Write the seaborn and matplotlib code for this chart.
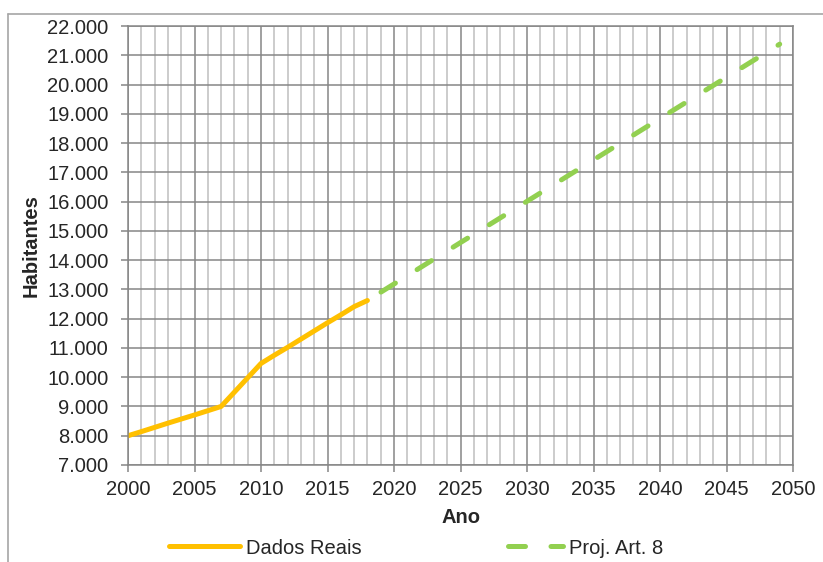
import pandas as pd
import seaborn as sns
import matplotlib.pyplot as plt
from matplotlib.lines import Line2D
from matplotlib.ticker import MultipleLocator, FuncFormatter

# dados reais (habitantes por ano)
anos_reais = [2000, 2001, 2002, 2003, 2004, 2005, 2006, 2007, 2008, 2009,
              2010, 2011, 2012, 2013, 2014, 2015, 2016, 2017, 2018]
hab_reais = [8000, 8140, 8285, 8430, 8570, 8710, 8855, 9000, 9490, 9980,
             10470, 10750, 11020, 11300, 11580, 11860, 12130, 12410, 12620]

# projecao
anos_proj = [2018, 2020, 2025, 2030, 2035, 2040, 2045, 2049]
hab_proj = [12620, 13185, 14600, 16010, 17425, 18840, 20250, 21380]

df_reais = pd.DataFrame({"Ano": anos_reais, "Habitantes": hab_reais})
df_proj = pd.DataFrame({"Ano": anos_proj, "Habitantes": hab_proj})

sns.set_style("white")
plt.rcParams['font.family'] = ['Liberation Sans', 'DejaVu Sans']
fs = 14.5

fig = plt.figure(figsize=(8.23, 5.62), dpi=100)
ax = fig.add_axes([128 / 823, 1 - 465 / 562, (793 - 128) / 823, (465 - 26) / 562])

sns.lineplot(data=df_reais, x="Ano", y="Habitantes", ax=ax, color="#FFC000",
             linewidth=3.6, label="Dados Reais", solid_capstyle="round")
sns.lineplot(data=df_proj, x="Ano", y="Habitantes", ax=ax, color="#92D050",
             linewidth=3.6, label="Proj. Art. 8")
proj_line = ax.lines[-1]
proj_line.set_linestyle((5.3, (3.4, 5.1)))
proj_line.set_dash_capstyle("round")

ax.set_xlim(2000, 2050)
ax.set_ylim(7000, 22000)
ax.xaxis.set_major_locator(MultipleLocator(5))
ax.xaxis.set_minor_locator(MultipleLocator(1))
ax.yaxis.set_major_locator(MultipleLocator(1000))
ax.yaxis.set_major_formatter(FuncFormatter(lambda v, p: f"{v:,.0f}".replace(",", ".")))

ax.grid(which="major", color="#868686", linewidth=1.1)
ax.grid(which="minor", axis="x", color="#BFBFBF", linewidth=1.1)
ax.set_axisbelow(True)

for s in ax.spines.values():
    s.set_color("#868686")
    s.set_linewidth(1.1)

ax.tick_params(axis="both", which="major", labelsize=fs, length=5, width=1.1,
               color="#868686", direction="out", left=True, bottom=True)
ax.tick_params(axis="y", which="major", pad=9)
ax.tick_params(axis="x", which="major", pad=6)
ax.tick_params(axis="x", which="minor", length=0)

ax.set_xlabel("Ano", fontsize=fs, fontweight="bold")
ax.set_ylabel("Habitantes", fontsize=fs, fontweight="bold")
ax.xaxis.set_label_coords(0.5, -0.098)
ax.yaxis.set_label_coords(-0.131, 0.5)

handles, labels = ax.get_legend_handles_labels()
ax.legend(handles, labels, loc="center", bbox_to_anchor=(416 / 823, 1 - 548 / 562),
          bbox_transform=fig.transFigure, ncol=2, frameon=False, fontsize=fs,
          handlelength=3.5, columnspacing=6.5, handletextpad=0.3,
          borderpad=0, borderaxespad=0)

# moldura externa do grafico
fig.add_artist(Line2D([8 / 823, 1], [1 - 14 / 562, 1 - 14 / 562], color="#A6A6A6", linewidth=1.2))
fig.add_artist(Line2D([8 / 823, 8 / 823], [0, 1 - 14 / 562], color="#A6A6A6", linewidth=1.2))

fig.savefig("out.png", dpi=100)
